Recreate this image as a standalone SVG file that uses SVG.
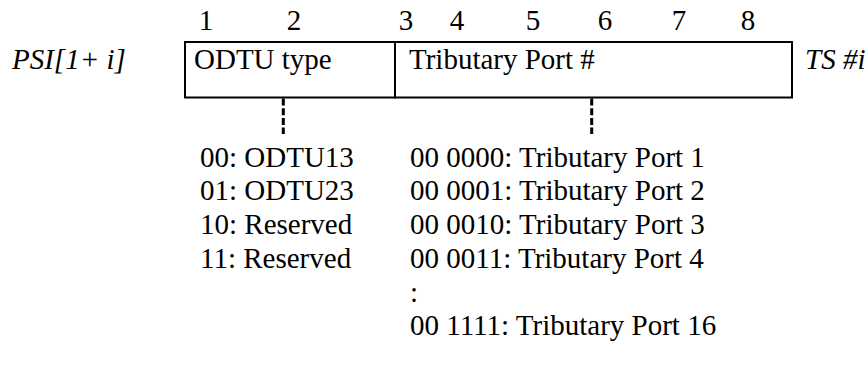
<svg xmlns="http://www.w3.org/2000/svg" width="867" height="372" viewBox="0 0 867 372" font-family="Liberation Serif" font-size="29">
<rect width="867" height="372" fill="#fff"/>
<g id="bit-numbers" font-family="Liberation Serif" font-size="29" text-anchor="middle" fill="#000">
<text x="206" y="30">1</text>
<text x="294" y="30">2</text>
<text x="406" y="30">3</text>
<text x="457" y="30">4</text>
<text x="533" y="30">5</text>
<text x="605" y="30">6</text>
<text x="679" y="30">7</text>
<text x="748" y="30">8</text>
</g>
<g id="psi-label" font-family="Liberation Serif" font-size="29" font-style="italic"><text x="12" y="69">PSI[1+ i]</text></g>
<g id="ts-label" font-family="Liberation Serif" font-size="29" font-style="italic"><text x="805" y="69">TS #i</text></g>
<g id="odtu-type" font-family="Liberation Serif" font-size="29">
<rect x="185" y="42" width="210" height="55.5" fill="none" stroke="#000" stroke-width="2"/>
<text x="194" y="69">ODTU type</text>
</g>
<g id="tributary-port" font-family="Liberation Serif" font-size="29">
<rect x="395" y="42" width="397" height="55.5" fill="none" stroke="#000" stroke-width="2"/>
<text x="409" y="69">Tributary Port #</text>
</g>
<g id="connectors" stroke="#000" stroke-width="3" stroke-dasharray="7 2.7" fill="none">
<line x1="283.3" y1="98.5" x2="283.3" y2="134"/>
<line x1="591.7" y1="98.5" x2="591.7" y2="134"/>
</g>
<g id="odtu-values" font-family="Liberation Serif" font-size="29">
<text x="200" y="166.5">00: ODTU13</text>
<text x="200" y="200.3">01: ODTU23</text>
<text x="200" y="234">10: Reserved</text>
<text x="200" y="267.8">11: Reserved</text>
</g>
<g id="port-values" font-family="Liberation Serif" font-size="29">
<text x="410" y="166.5">00 0000: Tributary Port 1</text>
<text x="410" y="200.3">00 0001: Tributary Port 2</text>
<text x="410" y="234">00 0010: Tributary Port 3</text>
<text x="410" y="267.8">00 0011: Tributary Port 4</text>
<text x="410" y="301.6">:</text>
<text x="410" y="335.4">00 1111: Tributary Port 16</text>
</g>
</svg>
